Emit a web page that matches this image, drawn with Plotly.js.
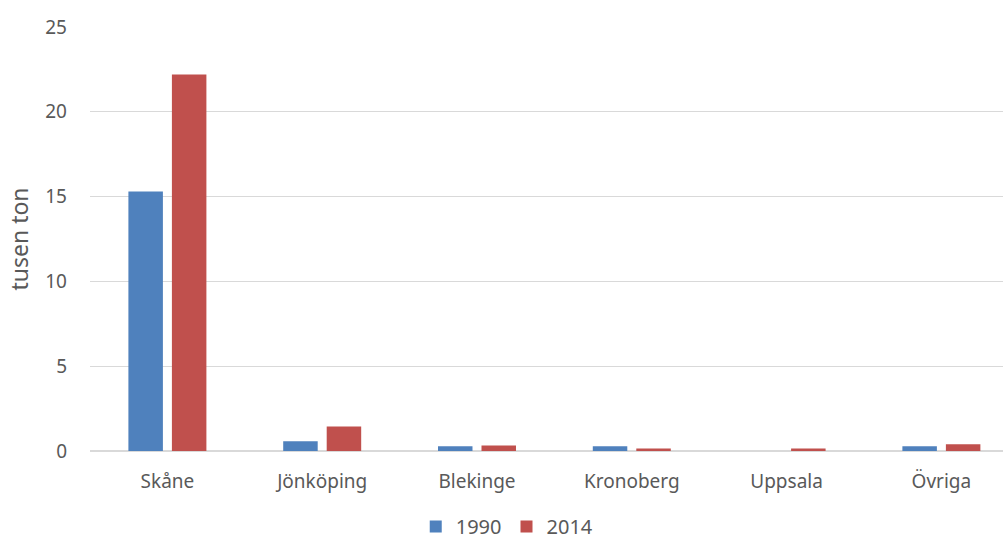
<!DOCTYPE html>
<html>
<head>
<meta charset="utf-8">
<script src="https://cdn.plot.ly/plotly-3.0.1.min.js"></script>
<style>
html,body{margin:0;padding:0;overflow:hidden;background:#fff;}
#chart{width:1003px;height:541px;}
</style>
</head>
<body>
<div id="chart"></div>
<script>
const categories = ["Skåne", "Jönköping", "Blekinge", "Kronoberg", "Uppsala", "Övriga"];
const values1990 = [15.3, 0.58, 0.28, 0.28, 0, 0.28];
const values2014 = [22.2, 1.44, 0.32, 0.15, 0.15, 0.4];
const seriesNames = ["1990", "2014"];
const yTicks = [0, 5, 10, 15, 20, 25];

const font = "'Noto Sans', 'Open Sans', sans-serif";
const traces = [
  {type: "bar", name: seriesNames[0], x: categories, y: values1990,
   marker: {color: "#4F81BD", line: {width: 0}}, hoverinfo: "x+y"},
  {type: "bar", name: seriesNames[1], x: categories, y: values2014,
   marker: {color: "#C0504D", line: {width: 0}}, hoverinfo: "x+y"}
];
const layout = {
  width: 1003, height: 541,
  margin: {l: 90, r: 0, t: 27, b: 90},
  paper_bgcolor: "#fff", plot_bgcolor: "#fff",
  barmode: "group", bargap: 0.438, bargroupgap: 0.207,
  font: {family: font, color: "#595959", size: 19},
  showlegend: true,
  legend: {orientation: "h", x: 0.457, xanchor: "center", yref: "container", y: 0.027, yanchor: "middle",
           font: {size: 20, color: "#595959"}, itemclick: false, traceorder: "normal"},
  xaxis: {type: "category", range: [-0.5, 5.398], showgrid: false, zeroline: false, showline: false,
          ticks: "", ticklabelstandoff: 17, tickfont: {size: 19, color: "#595959"}, automargin: false},
  yaxis: {range: [0, 25], tickvals: yTicks, showgrid: true, gridcolor: "#D9D9D9", gridwidth: 1,
          zeroline: true, zerolinecolor: "#D9D9D9", zerolinewidth: 1.5, showline: false,
          ticks: "", ticklabelstandoff: 22, tickfont: {size: 19, color: "#595959"}, automargin: false,
          title: {text: "tusen ton", font: {size: 23, color: "#595959"}, standoff: 10}}
};
Plotly.newPlot("chart", traces, layout, {displayModeBar: false, staticPlot: true});
</script>
</body>
</html>
